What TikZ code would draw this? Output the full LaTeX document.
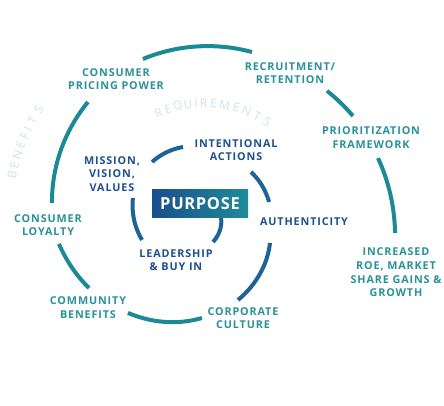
\documentclass[tikz,border=0pt]{standalone}
\usepackage{fontspec}
\setmainfont{Open Sans}
\newfontfamily\labfont[LetterSpace=8]{Open Sans}
\newfontfamily\boxfont[LetterSpace=4]{Open Sans}
\newfontfamily\arcfont{Open Sans}
\definecolor{outerc}{HTML}{1C8A96}
\definecolor{tealtxt}{HTML}{2A9199}
\definecolor{bluetxt}{HTML}{1E4F8F}
\definecolor{innerc}{HTML}{1E6398}
\definecolor{faint}{HTML}{D0E1EA}
\definecolor{boxleft}{HTML}{1A4E8D}
\definecolor{boxright}{HTML}{1E8C98}
\tikzset{
  outerarc/.style={draw=outerc, line width=4pt},
  innerarc/.style={draw=innerc, line width=4pt},
  tlab/.style={font={\labfont\bfseries\fontsize{10.8}{13.7}\selectfont}, text=tealtxt, align=center, inner sep=0pt},
  blab/.style={tlab, text=bluetxt},
  faintlet/.style={font={\arcfont\fontsize{12}{14}\selectfont}, text=faint, inner sep=0pt},
  purposebox/.style={left color=boxleft, right color=boxright, draw=none, minimum width=96pt, minimum height=27pt, inner sep=0pt, text=white, font={\boxfont\bfseries\fontsize{16.5}{18}\selectfont}}
}
% spiral arc: style, cx, cy, a1, a2, r1, r2
\newcommand\sarc[7]{%
  \draw[#1] plot[domain=#4:#5, samples=40, variable=\t]
    ({#2+(#6+(#7-#6)*(\t-#4)/(#5-#4))*cos(\t)}, {#3+(#6+(#7-#6)*(\t-#4)/(#5-#4))*sin(\t)});}
\begin{document}
\begin{tikzpicture}[x=1pt,y=-1pt]
\useasboundingbox (0,0) rectangle (444,406);
% outer spiral arcs (centre 205,215)
\sarc{outerarc}{205}{215}{248.3}{286.1}{167.9}{169.6}
\sarc{outerarc}{205}{215}{314.5}{326.2}{174}{178}
\sarc{outerarc}{205}{215}{341.8}{365.4}{182.1}{190.9}
\sarc{outerarc}{205}{215}{184.5}{224.0}{153.5}{162.7}
\sarc{outerarc}{205}{215}{147.8}{168.8}{137.1}{148.9}
\sarc{outerarc}{205}{215}{91.7}{128.2}{103.0}{124.6}
% inner spiral arcs (centre 200,205)
\sarc{innerarc}{200}{205}{221.9}{253.7}{64.4}{60.4}
\sarc{innerarc}{200}{205}{327.1}{357.5}{60.7}{69.1}
\sarc{innerarc}{200}{205}{148.9}{186.0}{67.7}{67.4}
\sarc{innerarc}{200}{205}{31.8}{70.6}{24.7}{39.2}
\sarc{innerarc}{200}{205}{28.5}{68.2}{79.6}{102.3}
% curved faint words
\foreach \ch/\a [count=\i] in {R/245.5,E/250.8,Q/256.0,U/261.3,I/265.5,R/269.3,E/274.5,M/280.2,E/286.2,N/291.9,T/297.8,S/303.8}
  \node[faintlet, rotate={-\a-90}] (rq\i) at ([shift={(\a:112)}]205,215) {\ch};
\foreach \ch/\a [count=\i] in {B/191.8,E/194.8,N/197.7,E/200.8,F/203.7,I/206.0,T/208.8,S/212.4}
  \node[faintlet, rotate={-\a-90}] (bf\i) at ([shift={(\a:197)}]205,215) {\ch};
% center
\node[purposebox] (purpose) at (200,203.5) {PURPOSE};
% inner labels
\node[blab] (mission) at (112,174) {MISSION,\\VISION,\\VALUES};
\node[blab] (intent) at (236,150) {INTENTIONAL\\ACTIONS};
\node[blab] (auth) at (304,222) {AUTHENTICITY};
\node[blab] (lead) at (176,260) {LEADERSHIP\\\& BUY IN};
% outer labels
\node[tlab] (pricing) at (116,79) {CONSUMER\\PRICING POWER};
\node[tlab] (recruit) at (290,73) {RECRUITMENT/\\RETENTION};
\node[tlab] (prior) at (371,137.5) {PRIORITIZATION\\FRAMEWORK};
\node[tlab] (roe) at (396,272.5) {INCREASED\\ROE, MARKET\\SHARE GAINS \&\\GROWTH};
\node[tlab] (corp) at (243,318) {CORPORATE\\CULTURE};
\node[tlab] (community) at (88,307.5) {COMMUNITY\\BENEFITS};
\node[tlab] (loyalty) at (48,225) {CONSUMER\\LOYALTY};
\end{tikzpicture}
\end{document}
